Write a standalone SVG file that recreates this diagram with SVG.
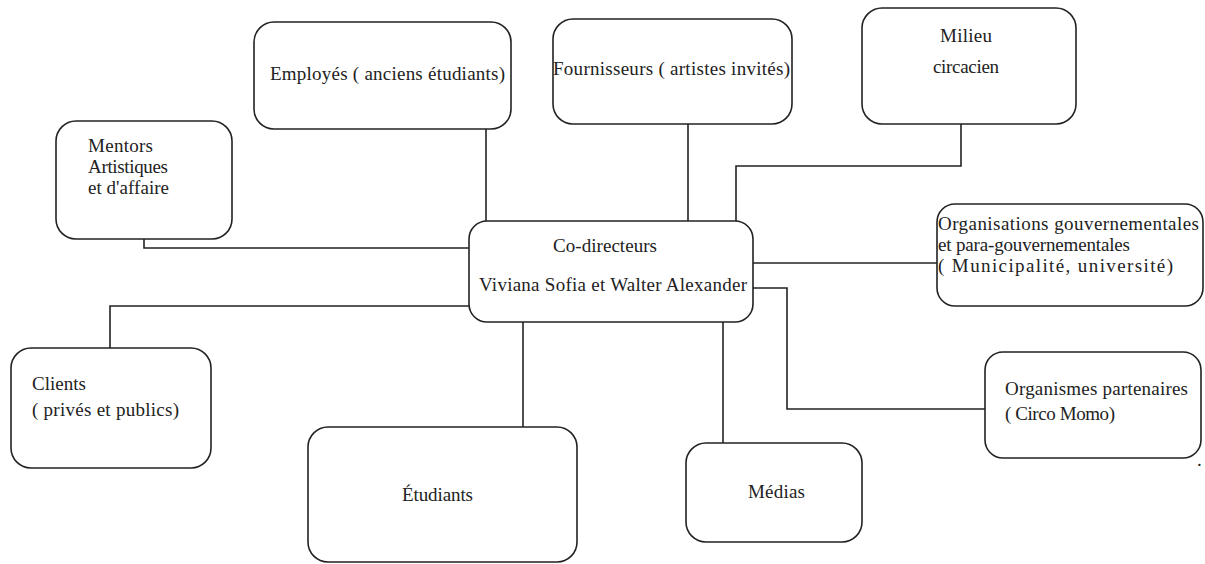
<svg xmlns="http://www.w3.org/2000/svg" width="1205" height="564" viewBox="0 0 1205 564">
<style>
  .box { fill: #ffffff; stroke: #222222; stroke-width: 1.6; }
  .conn { fill: none; stroke: #222222; stroke-width: 1.6; }
  .t { font-family: "Liberation Serif", "Times New Roman", "DejaVu Serif", serif; font-size: 19px; fill: #222222; }
</style>
<rect width="1205" height="564" fill="#ffffff"/>
<g id="connectors">
  <path class="conn" d="M486,129 V221"/>
  <path class="conn" d="M688,124 V221"/>
  <path class="conn" d="M961,124 V166 H736 V221"/>
  <path class="conn" d="M144,239 V248 H469"/>
  <path class="conn" d="M753,263 H937"/>
  <path class="conn" d="M753,288 H787 V409 H985"/>
  <path class="conn" d="M469,306 H110 V348"/>
  <path class="conn" d="M523,322 V427"/>
  <path class="conn" d="M723,322 V443"/>
</g>
<g id="employes">
  <rect class="box" x="254" y="22" width="257" height="107" rx="20"/>
  <text class="t" x="270" y="80" textLength="235">Employés ( anciens étudiants)</text>
</g>
<g id="fournisseurs">
  <rect class="box" x="553" y="19" width="239" height="105" rx="20"/>
  <text class="t" x="553" y="75" textLength="237">Fournisseurs ( artistes invités)</text>
</g>
<g id="milieu">
  <rect class="box" x="862" y="8" width="214" height="116" rx="20"/>
  <text class="t" x="940" y="42" textLength="52">Milieu</text>
  <text class="t" x="933" y="73" textLength="66">circacien</text>
</g>
<g id="mentors">
  <rect class="box" x="56" y="121" width="176" height="118" rx="20"/>
  <text class="t" x="88" y="152" textLength="65">Mentors</text>
  <text class="t" x="88" y="173" textLength="80">Artistiques</text>
  <text class="t" x="88" y="194" textLength="81">et d'affaire</text>
</g>
<g id="codirecteurs">
  <rect class="box" x="469" y="221" width="284" height="101" rx="18"/>
  <text class="t" x="553" y="252" textLength="104">Co-directeurs</text>
  <text class="t" x="479" y="291" textLength="268">Viviana Sofia et Walter Alexander</text>
</g>
<g id="organisations">
  <rect class="box" x="937" y="204" width="266" height="102" rx="18"/>
  <text class="t" x="938" y="230" textLength="261">Organisations gouvernementales</text>
  <text class="t" x="938" y="251" textLength="192">et para-gouvernementales</text>
  <text class="t" x="938" y="272" textLength="235">( Municipalité, université)</text>
</g>
<g id="organismes">
  <rect class="box" x="985" y="352" width="216" height="106" rx="18"/>
  <text class="t" x="1005" y="395" textLength="183">Organismes partenaires</text>
  <text class="t" x="1005" y="420" textLength="110">( Circo Momo)</text>
</g>
<text class="t" x="1197" y="466">.</text>
<g id="clients">
  <rect class="box" x="11" y="348" width="200" height="120" rx="20"/>
  <text class="t" x="32" y="390" textLength="54">Clients</text>
  <text class="t" x="32" y="416" textLength="147">( privés et publics)</text>
</g>
<g id="etudiants">
  <rect class="box" x="308" y="427" width="269" height="135" rx="20"/>
  <text class="t" x="402" y="501" textLength="71">Étudiants</text>
</g>
<g id="medias">
  <rect class="box" x="686" y="443" width="176" height="99" rx="20"/>
  <text class="t" x="748" y="498" textLength="57">Médias</text>
</g>
</svg>
